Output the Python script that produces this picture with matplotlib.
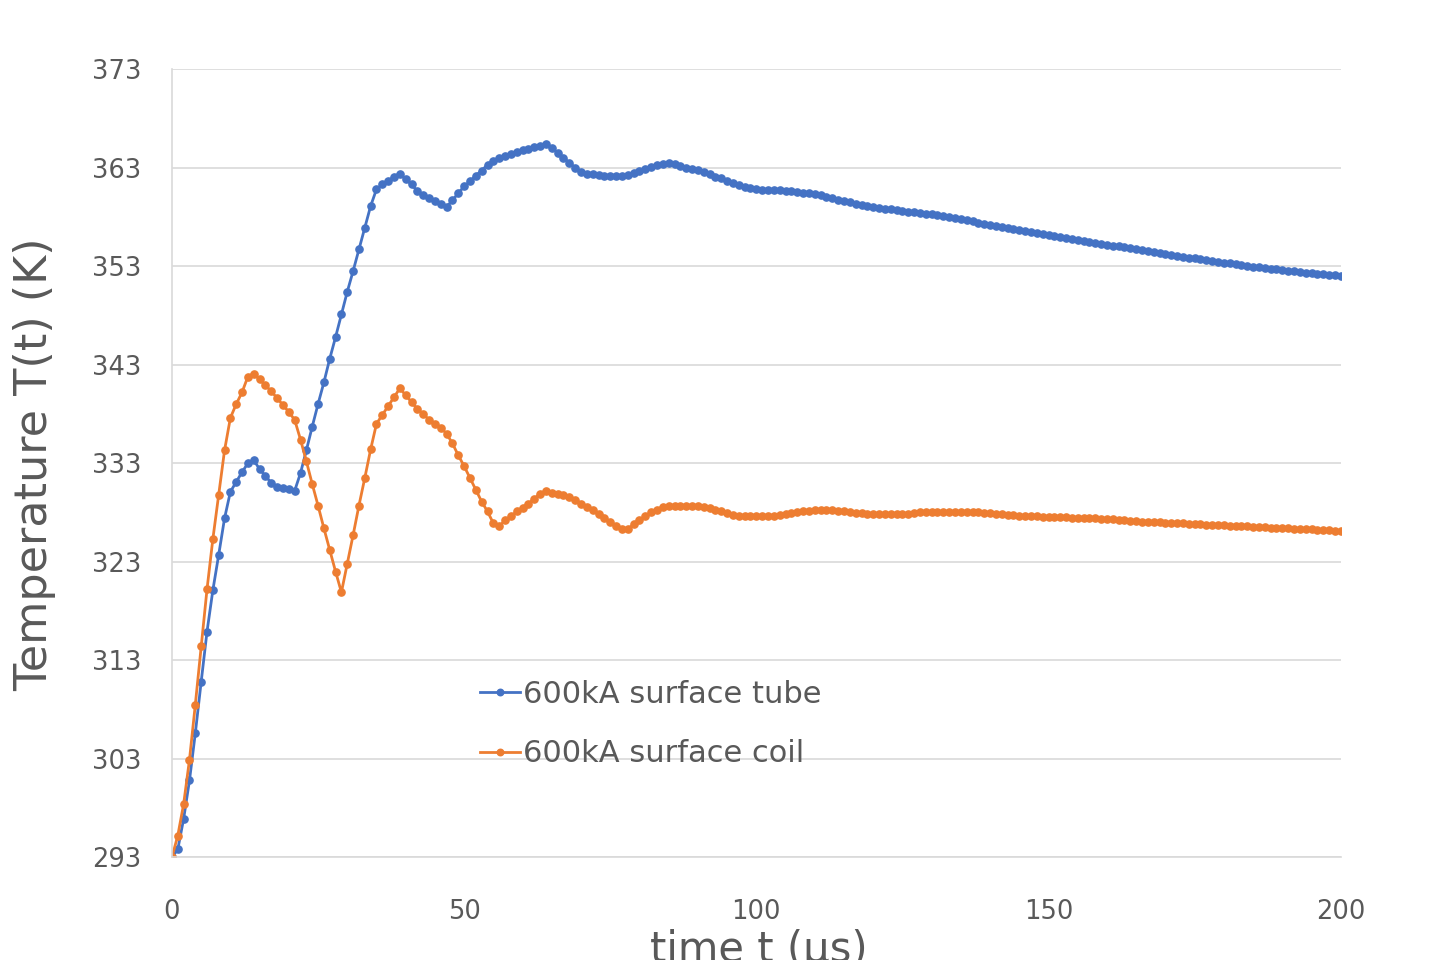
import matplotlib
matplotlib.use("Agg")
import matplotlib.pyplot as plt
import numpy as np

# time axis (us), one sample per microsecond
t = list(range(201))

tube = [
    293.0, 293.8, 296.9, 300.8, 305.6, 310.8, 315.9, 320.1, 323.7, 327.4,
    330.1, 331.1, 332.1, 333.0, 333.3, 332.4, 331.7, 331.0, 330.6, 330.5,
    330.4, 330.2, 332.0, 334.3, 336.7, 339.0, 341.2, 343.6, 345.8, 348.1,
    350.4, 352.5, 354.7, 356.9, 359.1, 360.8, 361.3, 361.6, 362.1, 362.4,
    361.8, 361.3, 360.6, 360.2, 359.9, 359.6, 359.3, 359.0, 359.7, 360.4,
    361.1, 361.6, 362.2, 362.7, 363.3, 363.7, 364.0, 364.2, 364.4, 364.6,
    364.8, 364.9, 365.1, 365.2, 365.4, 365.0, 364.5, 364.0, 363.5, 363.0,
    362.6, 362.4, 362.4, 362.3, 362.2, 362.2, 362.2, 362.2, 362.3, 362.5,
    362.7, 362.9, 363.1, 363.3, 363.4, 363.5, 363.4, 363.2, 363.0, 362.9,
    362.8, 362.6, 362.4, 362.1, 361.9, 361.6, 361.4, 361.2, 361.0, 360.9,
    360.8, 360.7, 360.7, 360.7, 360.7, 360.6, 360.6, 360.5, 360.4, 360.4,
    360.3, 360.2, 360.0, 359.9, 359.7, 359.6, 359.5, 359.3, 359.2, 359.1,
    359.0, 358.9, 358.8, 358.8, 358.7, 358.6, 358.5, 358.5, 358.4, 358.3,
    358.3, 358.2, 358.1, 358.0, 357.9, 357.8, 357.7, 357.6, 357.4, 357.3,
    357.2, 357.1, 357.0, 356.9, 356.8, 356.7, 356.6, 356.5, 356.4, 356.3,
    356.2, 356.1, 356.0, 355.9, 355.8, 355.7, 355.6, 355.5, 355.4, 355.2,
    355.1, 355.0, 355.0, 354.9, 354.8, 354.7, 354.6, 354.5, 354.4, 354.3,
    354.2, 354.1, 354.0, 353.9, 353.8, 353.8, 353.7, 353.6, 353.5, 353.4,
    353.3, 353.3, 353.2, 353.1, 353.0, 352.9, 352.9, 352.8, 352.7, 352.7,
    352.6, 352.5, 352.5, 352.4, 352.3, 352.3, 352.2, 352.2, 352.1, 352.1,
    352.0,
]

coil = [
    293.0, 295.2, 298.4, 302.9, 308.5, 314.4, 320.2, 325.3, 329.8, 334.3,
    337.6, 339.0, 340.2, 341.8, 342.1, 341.5, 340.9, 340.3, 339.6, 338.9,
    338.2, 337.4, 335.4, 333.2, 330.9, 328.7, 326.4, 324.2, 322.0, 319.9,
    322.8, 325.7, 328.7, 331.5, 334.4, 337.0, 337.9, 338.8, 339.7, 340.6,
    339.9, 339.2, 338.5, 338.0, 337.4, 337.0, 336.6, 336.0, 335.0, 333.8,
    332.7, 331.5, 330.3, 329.1, 328.1, 326.9, 326.6, 327.2, 327.6, 328.1,
    328.5, 328.9, 329.4, 329.9, 330.2, 330.0, 329.9, 329.8, 329.6, 329.3,
    328.9, 328.6, 328.2, 327.8, 327.4, 327.0, 326.6, 326.3, 326.3, 326.8,
    327.2, 327.6, 328.0, 328.3, 328.6, 328.7, 328.7, 328.7, 328.7, 328.7,
    328.7, 328.6, 328.5, 328.3, 328.1, 327.9, 327.7, 327.6, 327.6, 327.6,
    327.6, 327.6, 327.6, 327.6, 327.7, 327.8, 327.9, 328.0, 328.1, 328.1,
    328.2, 328.2, 328.2, 328.2, 328.1, 328.1, 328.0, 327.9, 327.9, 327.8,
    327.8, 327.8, 327.8, 327.8, 327.8, 327.8, 327.8, 327.9, 328.0, 328.0,
    328.0, 328.0, 328.0, 328.0, 328.0, 328.0, 328.0, 328.0, 328.0, 327.9,
    327.9, 327.8, 327.8, 327.7, 327.7, 327.6, 327.6, 327.6, 327.6, 327.5,
    327.5, 327.5, 327.5, 327.5, 327.4, 327.4, 327.4, 327.4, 327.4, 327.3,
    327.3, 327.3, 327.2, 327.2, 327.1, 327.1, 327.0, 327.0, 327.0, 327.0,
    326.9, 326.9, 326.9, 326.9, 326.8, 326.8, 326.8, 326.7, 326.7, 326.7,
    326.7, 326.6, 326.6, 326.6, 326.6, 326.5, 326.5, 326.5, 326.4, 326.4,
    326.4, 326.4, 326.3, 326.3, 326.3, 326.3, 326.2, 326.2, 326.2, 326.1,
    326.1,
]

labels = ["600kA surface tube", "600kA surface coil"]
colors = ["#4472C4", "#ED7D31"]
x_ticks = [0, 50, 100, 150, 200]
y_ticks = [293, 303, 313, 323, 333, 343, 353, 363, 373]

txt = "#595959"
plt.rcParams['font.family'] = ['DejaVu Sans']

fig = plt.figure(figsize=(14.51, 9.6), dpi=100)
ax = fig.add_axes([0.1185, 0.107, 0.8055, 0.821])

for ys, lab, c in zip([tube, coil], labels, colors):
    ax.plot(t, ys, color=c, lw=2.0, marker='o', ms=5.2, label=lab)

ax.set_xlim(0, 200)
ax.set_ylim(293, 373)
ax.set_xticks(x_ticks)
ax.set_yticks(y_ticks)
ax.tick_params(axis='both', length=0, labelsize=18.5, colors=txt)
ax.tick_params(axis='y', pad=22)
ax.tick_params(axis='x', pad=30)
ax.grid(axis='y', color='#d9d9d9', lw=1.2)
ax.set_axisbelow(True)
for s in ['top', 'right']:
    ax.spines[s].set_visible(False)
ax.spines['left'].set_color('#d9d9d9')
ax.spines['bottom'].set_color('#d9d9d9')
ax.spines['left'].set_linewidth(1.2)
ax.spines['bottom'].set_linewidth(1.2)

fig.text(0.024, 0.516, "Temperature T(t) (K)", rotation=90, ha='center', va='center',
         fontsize=32, color=txt)
fig.text(0.523, -0.002, "time t (\u00b5s)", ha='center', va='baseline', fontsize=30, color=txt)

leg = ax.legend(loc='upper left', bbox_to_anchor=(0.24, 0.26), frameon=False,
                fontsize=22, handlelength=1.3, handletextpad=0.1, labelspacing=1.0,
                labelcolor=txt, markerscale=0.9)

fig.savefig("out.png", dpi=100)
